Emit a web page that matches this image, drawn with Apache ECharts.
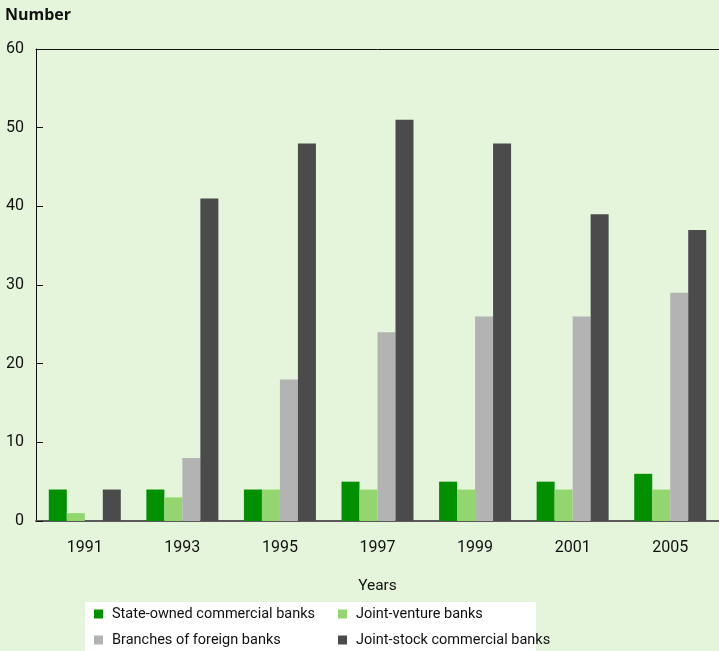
<!DOCTYPE html>
<html>
<head>
<meta charset="utf-8">
<script src="https://cdn.jsdelivr.net/npm/echarts@6/dist/echarts.min.js"></script>
<style>
  html, body { margin: 0; padding: 0; background: #e4f5dc; }
  #chart { width: 719px; height: 651px; }
</style>
</head>
<body>
<div id="chart"></div>
<script>
var years = ["1991", "1993", "1995", "1997", "1999", "2001", "2005"];
var stateOwned = [4, 4, 4, 5, 5, 5, 6];
var jointVenture = [1, 3, 4, 4, 4, 4, 4];
var foreignBranches = [0, 8, 18, 24, 26, 26, 29];
var jointStock = [4, 41, 48, 51, 48, 39, 37];

var chart = echarts.init(document.getElementById("chart"));
var font = "Roboto";

function bar(name, data, color) {
  return {
    type: "bar",
    name: name,
    data: data,
    barWidth: 18,
    barGap: "0%",
    itemStyle: { color: color },
    emphasis: { disabled: true },
  };
}

var option = {
  backgroundColor: "#e4f5dc",
  animation: false,
  textStyle: { fontFamily: font },
  title: {
    text: "Number",
    left: 5,
    top: 7,
    padding: 0,
    textStyle: { fontFamily: "Open Sans", fontWeight: "bold", fontSize: 16, color: "#111" },
  },
  graphic: [
    {
      type: "rect",
      z: 0,
      shape: { x: 85, y: 602, width: 451, height: 50 },
      style: { fill: "#ffffff" },
    },
  ],
  legend: [
    {
      orient: "vertical",
      left: 94,
      top: 606,
      padding: 0,
      itemWidth: 9,
      itemHeight: 9,
      itemGap: 10,
      icon: "rect",
      data: ["State-owned commercial banks", "Branches of foreign banks"],
      textStyle: { fontSize: 14.5, color: "#111", lineHeight: 16, padding: [0, 0, 0, 4] },
    },
    {
      orient: "vertical",
      left: 338,
      top: 606,
      padding: 0,
      itemWidth: 9,
      itemHeight: 9,
      itemGap: 10,
      icon: "rect",
      data: ["Joint-venture banks", "Joint-stock commercial banks"],
      textStyle: { fontSize: 14.5, color: "#111", lineHeight: 16, padding: [0, 0, 0, 4] },
    },
  ],
  grid: { left: 36, right: -1, top: 49, bottom: 130 },
  xAxis: [
    {
      type: "category",
      data: years,
      name: "Years",
      nameLocation: "middle",
      nameGap: 57,
      nameTextStyle: { fontSize: 15.5, color: "#111" },
      axisLine: { lineStyle: { color: "#5a5a5a", width: 2 } },
      axisTick: { inside: true, length: 8, lineStyle: { color: "#111", width: 1 } },
      axisLabel: { fontSize: 16, color: "#111", margin: 19 },
    },
    {
      type: "category",
      data: years,
      position: "top",
      axisLine: { lineStyle: { color: "#111", width: 1 } },
      axisTick: { show: false },
      axisLabel: { show: false },
    },
  ],
  yAxis: {
    type: "value",
    min: 0,
    max: 60,
    interval: 10,
    axisLine: { show: true, lineStyle: { color: "#111", width: 1 } },
    axisTick: { show: true, inside: true, length: 7, lineStyle: { color: "#111" } },
    axisLabel: { fontSize: 16, color: "#111", margin: 12 },
    splitLine: { show: false },
  },
  series: [
    bar("State-owned commercial banks", stateOwned, "#009000"),
    bar("Joint-venture banks", jointVenture, "#93d670"),
    bar("Branches of foreign banks", foreignBranches, "#b3b3b3"),
    bar("Joint-stock commercial banks", jointStock, "#4b4b4b"),
  ],
};
chart.setOption(option);
</script>
</body>
</html>
